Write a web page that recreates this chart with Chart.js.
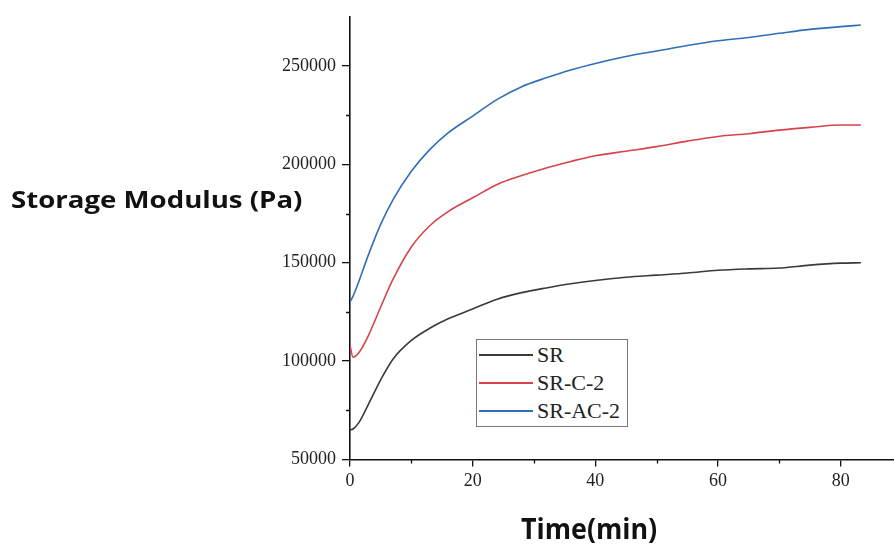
<!DOCTYPE html>
<html>
<head>
<meta charset="utf-8">
<script src="https://cdn.jsdelivr.net/npm/chart.js@4.4.1/dist/chart.umd.min.js"></script>
<style>
  body { margin: 0; background: #fff; }
  #wrap { position: relative; width: 894px; height: 551px; overflow: hidden; }
  #chart { position: absolute; left: 0; top: 0; }
  .axis-title { position: absolute; font-family: "Open Sans", sans-serif; font-weight: bold; color: #111; white-space: nowrap; transform-origin: 0 0; }
  #y-title { left: 11px; top: 187px; font-size: 24px; line-height: 24px; }
  #x-title { left: 521px; top: 514px; font-size: 28px; line-height: 28px; }
  #legend { position: absolute; left: 476px; top: 339px; width: 150px; height: 86px; border: 1px solid #7a7a7a; background: #fff; }
  #legend .row { position: absolute; left: 0; height: 22px; font-family: "Liberation Serif", serif; font-size: 22px; line-height: 22px; color: #222; }
  #legend .sample { position: absolute; left: 2px; top: 10px; width: 54px; height: 2px; }
  #legend .label { position: absolute; left: 60px; top: 0; white-space: nowrap; }
</style>
</head>
<body>
<div id="wrap">
  <canvas id="chart" width="894" height="551"></canvas>
  <div id="y-title" class="axis-title">Storage Modulus (Pa)</div>
  <div id="x-title" class="axis-title">Time(min)</div>
  <div id="legend"></div>
</div>
<script>
// time in minutes, shared by all three curves
const timeMin = [0, 0.5, 1.5, 3, 5, 7, 10, 13, 16, 20, 24, 28, 32, 36, 40, 45, 50, 55, 60, 65, 70, 75, 80, 83.3];

// storage modulus (Pa)
const srValues = [65000, 65500, 69000, 78000, 90500, 101000, 110500, 116700, 121500, 126500, 131500, 134800,
    137200, 139300, 141000, 142600, 143700, 144800, 146200, 146900, 147300, 148800, 149800, 150000];
const srC2Values = [108000, 102000, 104500, 113000, 127500, 141500, 158000, 168800, 176000, 183000, 189800, 194300,
    198200, 201500, 204400, 206700, 209000, 211800, 214200, 215600, 217400, 218800, 220000, 220000];
const srAC2Values = [130000, 133000, 141000, 154000, 169500, 182000, 196500, 207500, 216000, 224500, 233000, 239500,
    244000, 248000, 251300, 254800, 257600, 260400, 262800, 264500, 266600, 268600, 270000, 270800];

const seriesNames = ['SR', 'SR-C-2', 'SR-AC-2'];
const seriesColors = ['#3a3a3a', '#d7434b', '#2f6fba'];

const xTicks = [0, 20, 40, 60, 80];
const xMinorTicks = [10, 30, 50, 70];
const yTicks = [50000, 100000, 150000, 200000, 250000];
const yMinorTicks = [75000, 125000, 175000, 225000];

const tickFont = { family: '"Liberation Serif", serif', size: 18 };

function toPoints(values) {
    return values.map((v, i) => ({ x: timeMin[i], y: v }));
}

// short outward ticks between the labelled ones
const minorTicks = {
    id: 'minorTicks',
    afterDraw(chart) {
        const { ctx, chartArea, scales } = chart;
        ctx.save();
        ctx.strokeStyle = '#111';
        ctx.lineWidth = 1.3;
        ctx.beginPath();
        xMinorTicks.forEach(t => {
            const px = Math.round(scales.x.getPixelForValue(t)) + 0.5;
            ctx.moveTo(px, chartArea.bottom);
            ctx.lineTo(px, chartArea.bottom + 4);
        });
        yMinorTicks.forEach(t => {
            const py = Math.round(scales.y.getPixelForValue(t)) + 0.5;
            ctx.moveTo(chartArea.left, py);
            ctx.lineTo(chartArea.left - 4, py);
        });
        ctx.stroke();
        ctx.restore();
    }
};

const datasets = [srValues, srC2Values, srAC2Values].map((vals, i) => ({
    label: seriesNames[i],
    data: toPoints(vals),
    borderColor: seriesColors[i],
    borderWidth: 1.6,
    pointRadius: 0,
    cubicInterpolationMode: 'monotone',
    fill: false
}));

const chart = new Chart(document.getElementById('chart').getContext('2d'), {
    type: 'line',
    data: { datasets },
    options: {
        responsive: false,
        animation: false,
        layout: { padding: { top: 14, left: 0, right: 0, bottom: 0 } },
        plugins: { legend: { display: false }, tooltip: { enabled: false } },
        scales: {
            x: {
                type: 'linear',
                min: 0,
                max: 88.7,
                afterFit: s => { s.height = 91.5; },
                afterBuildTicks: s => { s.ticks = xTicks.map(v => ({ value: v })); },
                ticks: { font: tickFont, color: '#222', padding: 4, maxRotation: 0, callback: v => String(v) },
                grid: { drawOnChartArea: false, tickLength: 7, color: '#111', lineWidth: 1.3 },
                border: { color: '#111', width: 1.6 }
            },
            y: {
                min: 50000,
                max: 275000,
                afterFit: s => { s.width = 350; },
                afterBuildTicks: s => { s.ticks = yTicks.map(v => ({ value: v })); },
                ticks: { font: tickFont, color: '#222', padding: 6, callback: v => String(v) },
                grid: { drawOnChartArea: false, tickLength: 8, color: '#111', lineWidth: 1.3 },
                border: { color: '#111', width: 1.6 }
            }
        }
    },
    plugins: [minorTicks]
});

// legend box built from the datasets
const legend = document.getElementById('legend');
chart.data.datasets.forEach((ds, i) => {
    const row = document.createElement('div');
    row.className = 'row';
    row.style.top = (4 + i * 28) + 'px';
    row.innerHTML = `<span class="sample" style="background:${ds.borderColor}"></span><span class="label">${ds.label}</span>`;
    legend.appendChild(row);
});

// the titles in the figure are a bit wider than the fonts we have
const yTitle = document.getElementById('y-title');
yTitle.style.transform = `scaleX(${291 / yTitle.offsetWidth})`;
const xTitle = document.getElementById('x-title');
xTitle.style.transform = `scaleX(${136 / xTitle.offsetWidth})`;
</script>
</body>
</html>
